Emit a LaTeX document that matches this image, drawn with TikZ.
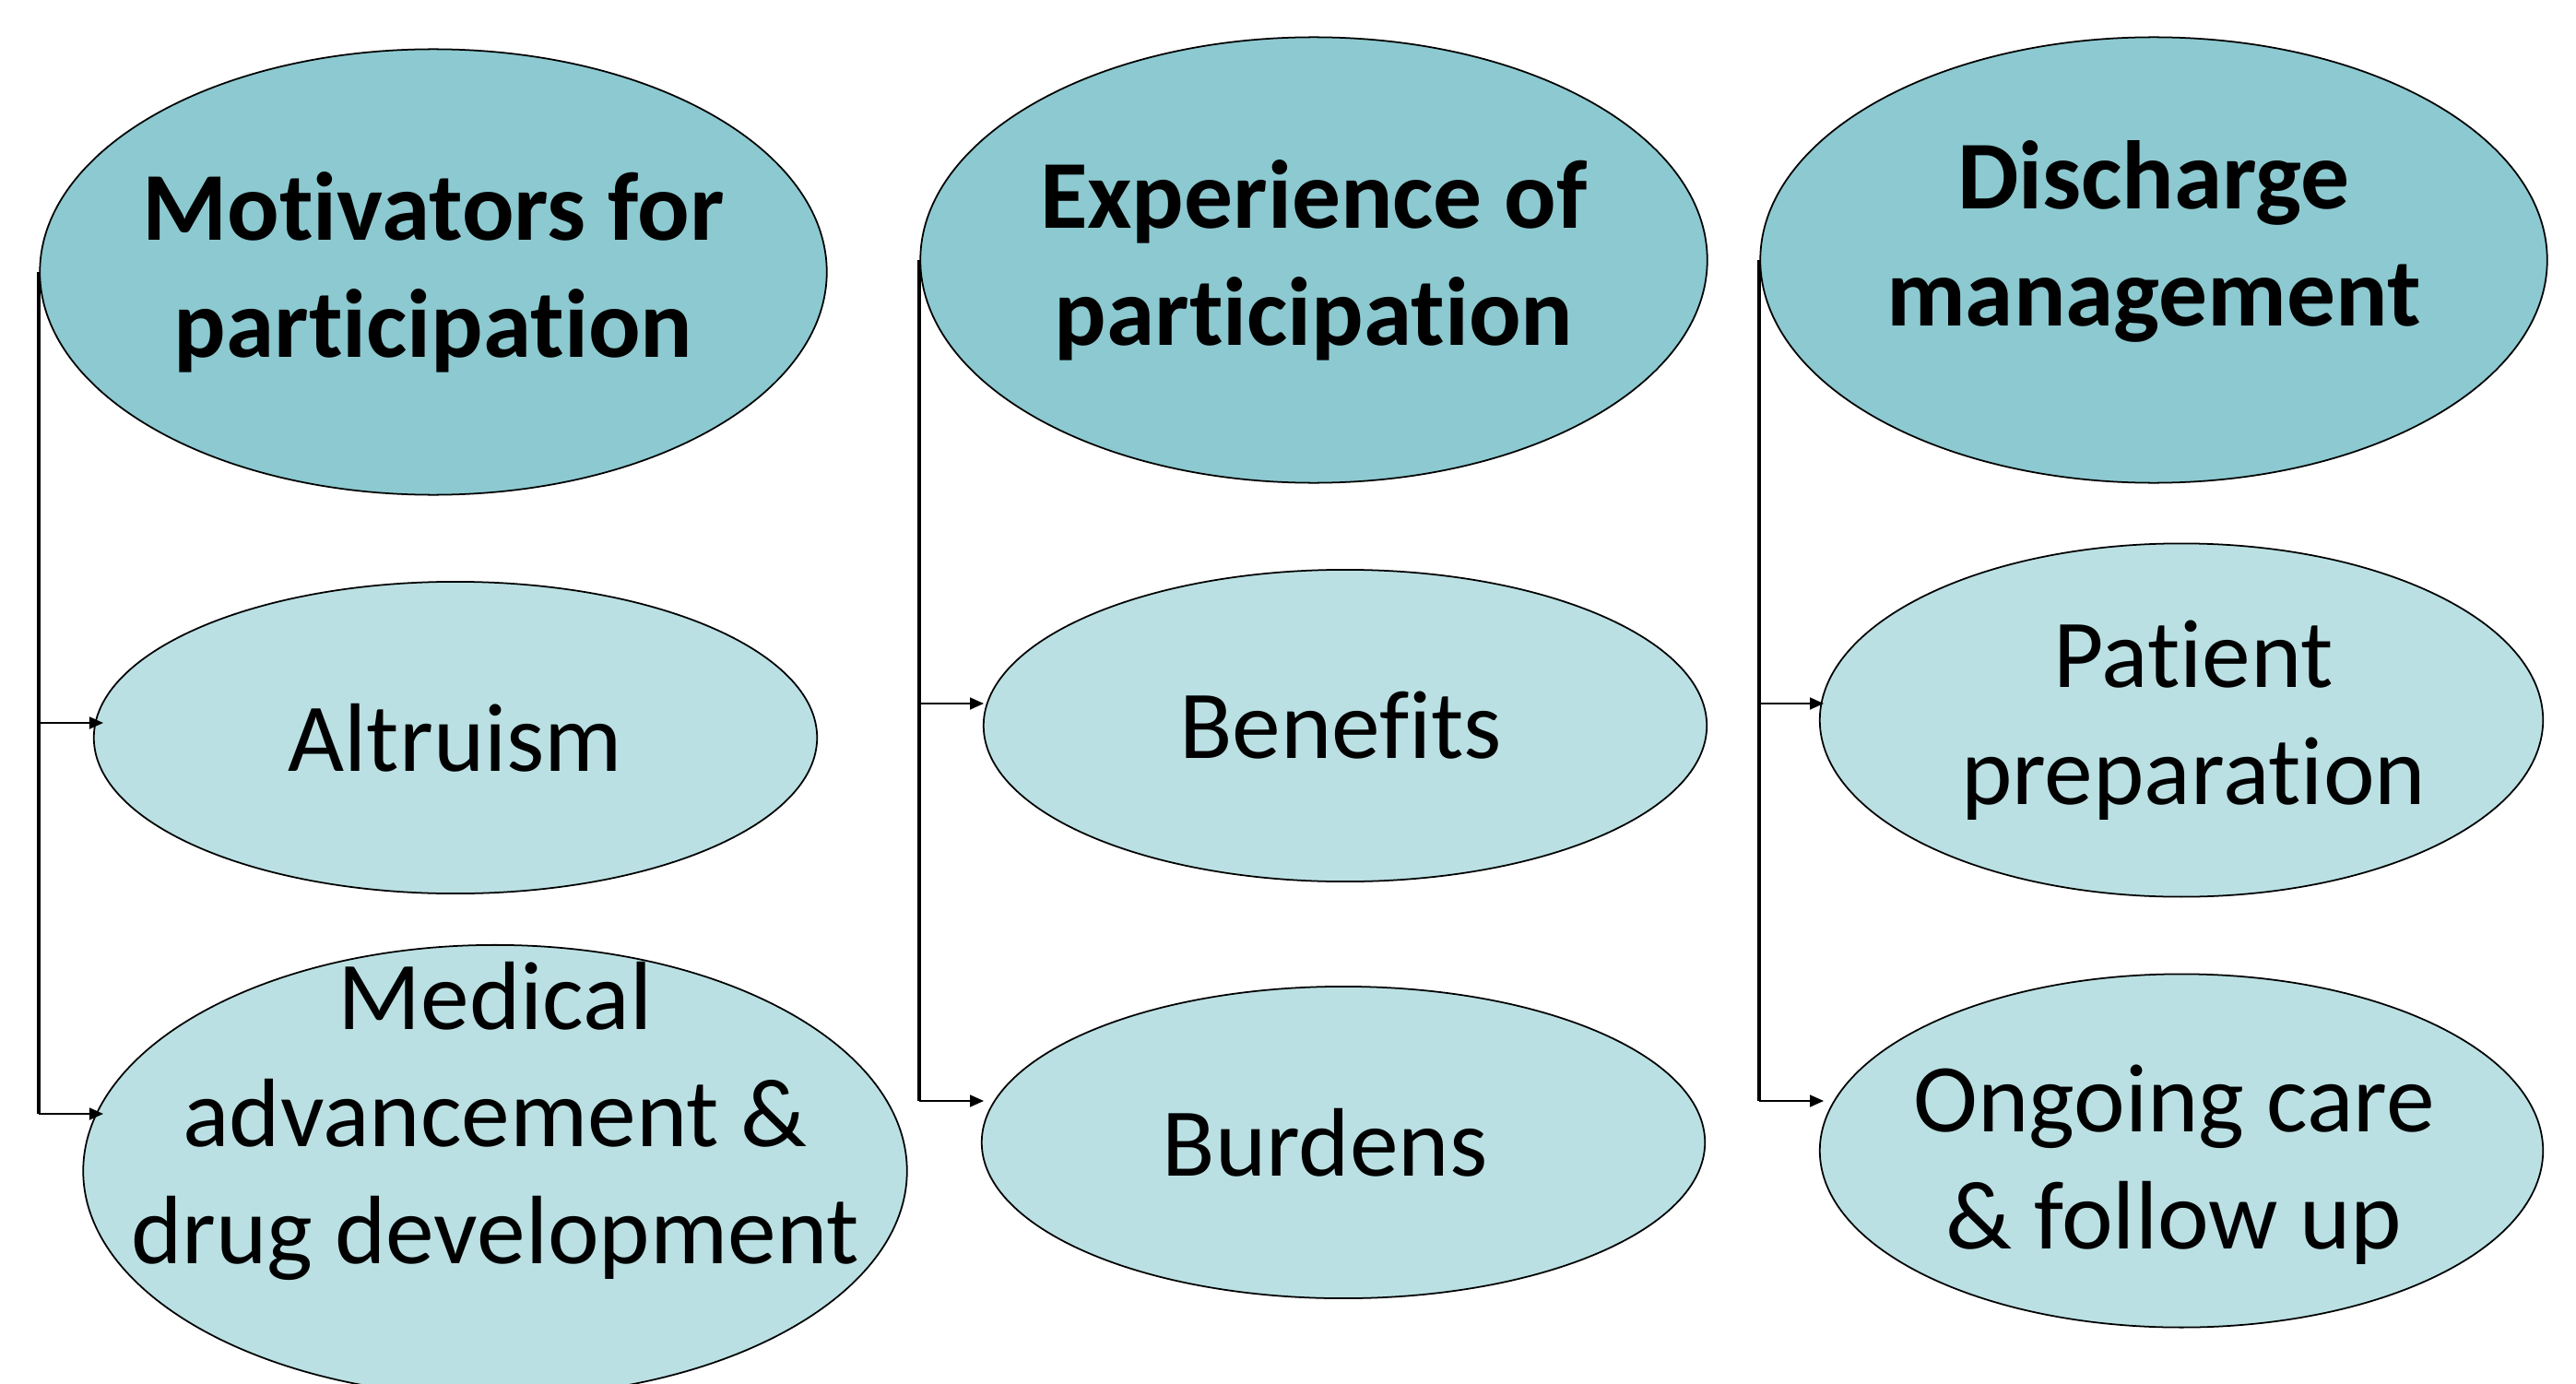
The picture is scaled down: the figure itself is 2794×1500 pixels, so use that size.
\documentclass[tikz,border=0pt]{standalone}
\usepackage{fontspec}
\setmainfont{Carlito}[Ligatures=NoCommon]
\usetikzlibrary{shapes.geometric,arrows.meta}

\definecolor{themefill}{RGB}{140,201,208}
\definecolor{subfill}{RGB}{186,224,227}

\tikzset{
  theme/.style={ellipse,draw,line width=0.5pt,fill=themefill,inner sep=0pt,
    minimum width=8.53cm,minimum height=4.83cm},
  sub/.style={ellipse,draw,line width=0.5pt,fill=subfill,inner sep=0pt,
    minimum width=7.84cm,minimum height=3.38cm},
  themetext/.style={align=center,inner sep=0pt,font=\fontsize{30}{36}\selectfont\bfseries},
  subtext/.style={align=center,inner sep=0pt,font=\fontsize{30}{36}\selectfont},
  trunk/.style={line width=1.1pt},
  feed/.style={->,line width=0.5pt}
}

\begin{document}
\begin{tikzpicture}[x=0.01cm,y=-0.01cm,>={Triangle[length=0.15cm,width=0.13cm]}]
  \useasboundingbox (0,0) rectangle (2794,1500);
  \clip (0,0) rectangle (2794,1500);

  % themes
  \node[theme] (motiv) at (470,295) {};
  \node[theme] (exper) at (1425,282) {};
  \node[theme] (disch) at (2336,282) {};
  \node[themetext] (motiv-t) at (motiv) {Motivators for\\participation};
  \node[themetext] (exper-t) at (exper) {Experience of\\participation};
  \node[themetext] (disch-t) at ([yshift=0.2cm]disch) {Discharge\\management};

  % sub-themes
  \node[sub] (altru) at (494,800) {};
  \node[sub,minimum width=8.93cm,minimum height=4.9cm] (medi) at (537,1270) {};
  \node[sub] (bene) at (1459,787) {};
  \node[sub] (burd) at (1457,1239) {};
  \node[sub,minimum height=3.83cm] (prep) at (2366,781) {};
  \node[sub,minimum height=3.83cm] (care) at (2366,1248) {};
  \node[subtext] (altru-t) at (altru) {Altruism};
  \node[subtext] (medi-t) at ([yshift=0.54cm]medi) {Medical\\advancement \&\\drug development};
  \node[subtext] (bene-t) at ([xshift=-0.05cm]bene) {Benefits};
  \node[subtext] (burd-t) at ([xshift=-0.2cm]burd) {Burdens};
  \node[subtext] (prep-t) at ([xshift=0.13cm]prep) {Patient\\preparation};
  \node[subtext] (care-t) at ([xshift=-0.08cm,yshift=-0.15cm]care) {Ongoing care\\\& follow up};

  % where the arrows meet the sub-themes
  \coordinate (altru-in) at (112,784);
  \coordinate (medi-in) at (112,1208);
  \coordinate (bene-in) at (1067,763);
  \coordinate (burd-in) at (1067,1194);
  \coordinate (prep-in) at (1978,763);
  \coordinate (care-in) at (1978,1194);

  \draw[trunk] (motiv.west) -- (motiv.west |- medi-in);
  \draw[feed] (motiv.west |- altru-in) -- (altru-in);
  \draw[feed] (motiv.west |- medi-in) -- (medi-in);

  \draw[trunk] (exper.west) -- (exper.west |- burd-in);
  \draw[feed] (exper.west |- bene-in) -- (bene-in);
  \draw[feed] (exper.west |- burd-in) -- (burd-in);

  \draw[trunk] (disch.west) -- (disch.west |- care-in);
  \draw[feed] (disch.west |- prep-in) -- (prep-in);
  \draw[feed] (disch.west |- care-in) -- (care-in);
\end{tikzpicture}
\end{document}
